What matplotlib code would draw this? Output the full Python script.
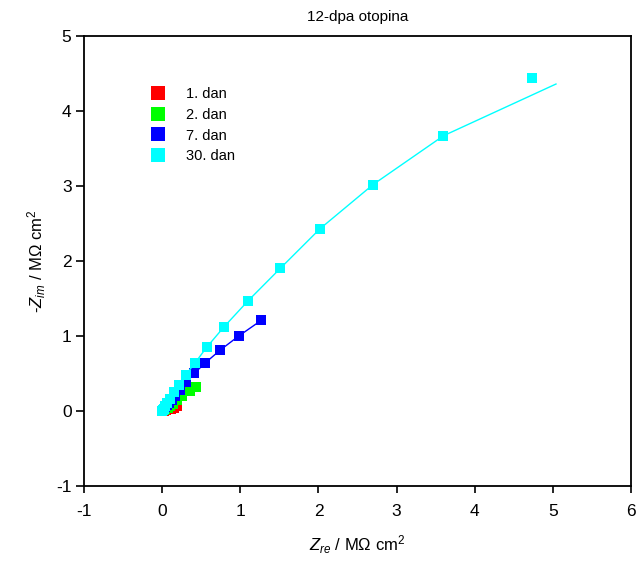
import matplotlib
matplotlib.use('Agg')
import matplotlib.pyplot as plt

plt.rcParams['font.family'] = ['Liberation Sans', 'DejaVu Sans']
plt.rcParams['mathtext.fontset'] = 'custom'
plt.rcParams['mathtext.rm'] = 'Liberation Sans'
plt.rcParams['mathtext.it'] = 'Liberation Sans:italic'
plt.rcParams['axes.unicode_minus'] = False

# measured impedance, MOhm cm2
x_d1 = [0.0, 0.02, 0.05, 0.08, 0.11, 0.15, 0.19]
y_d1 = [0.0, 0.005, 0.01, 0.02, 0.03, 0.045, 0.065]

x_d2 = [0.0, 0.02, 0.04, 0.07, 0.10, 0.14, 0.19, 0.26, 0.35, 0.43]
y_d2 = [0.0, 0.01, 0.02, 0.04, 0.06, 0.09, 0.14, 0.20, 0.26, 0.32]

x_d7 = [0.0, 0.01, 0.02, 0.04, 0.06, 0.09, 0.13, 0.17, 0.23, 0.31, 0.41, 0.55, 0.74, 0.98, 1.27]
y_d7 = [0.0, 0.01, 0.03, 0.05, 0.08, 0.11, 0.15, 0.20, 0.28, 0.38, 0.50, 0.64, 0.81, 1.00, 1.21]

x_d30 = [0.0, 0.01, 0.02, 0.04, 0.06, 0.10, 0.15, 0.22, 0.30, 0.42, 0.57, 0.79, 1.10, 1.51, 2.02, 2.70, 3.60, 4.73]
y_d30 = [0.0, 0.01, 0.03, 0.06, 0.10, 0.16, 0.25, 0.35, 0.48, 0.64, 0.85, 1.12, 1.47, 1.90, 2.43, 3.02, 3.67, 4.44]

# fitted curves
fit_x_d7 = x_d7
fit_y_d7 = y_d7
fit_x_d30 = x_d30[:-1] + [5.04]
fit_y_d30 = y_d30[:-1] + [4.36]

fig = plt.figure(figsize=(6.39, 5.69), dpi=100)
ax = fig.add_axes([0.1315, 0.1459, 0.856, 0.7908])

ms = 7.5
ax.plot(x_d1, y_d1, color='red', lw=1)
ax.plot(x_d1, y_d1, 's', color='red', ms=ms, mew=0, label='1. dan')
ax.plot(x_d2, y_d2, color='#00ff00', lw=1)
ax.plot(x_d2, y_d2, 's', color='#00ff00', ms=ms, mew=0, label='2. dan')
ax.plot(fit_x_d7, fit_y_d7, color='blue', lw=1)
ax.plot(x_d7, y_d7, 's', color='blue', ms=ms, mew=0, label='7. dan')
ax.plot(fit_x_d30, fit_y_d30, color='cyan', lw=1)
ax.plot(x_d30, y_d30, 's', color='cyan', ms=ms, mew=0, label='30. dan')

ax.set_xlim(-1, 6)
ax.set_ylim(-1, 5)
ax.set_xticks(range(-1, 7))
ax.set_yticks(range(-1, 6))
ax.tick_params(direction='out', length=6, width=1.2, labelsize=12.5, pad=3)
ax.tick_params(axis='x', length=5, pad=8)
for s in ax.spines.values():
    s.set_linewidth(1.3)

ax.set_title('12-dpa otopina', fontsize=11, pad=11)
ax.set_xlabel(r'$Z_{re}$ / M$\Omega$ cm$^2$', fontsize=12, labelpad=10)
ax.set_ylabel(r'-$Z_{im}$ / M$\Omega$ cm$^2$', fontsize=12, labelpad=6)

ax.legend(loc='upper left', bbox_to_anchor=(0.095, 0.915), frameon=False,
          fontsize=10.5, handlelength=1.2, handletextpad=1.3, labelspacing=0.45,
          markerscale=1.4)

fig.savefig('out.png', dpi=100)
